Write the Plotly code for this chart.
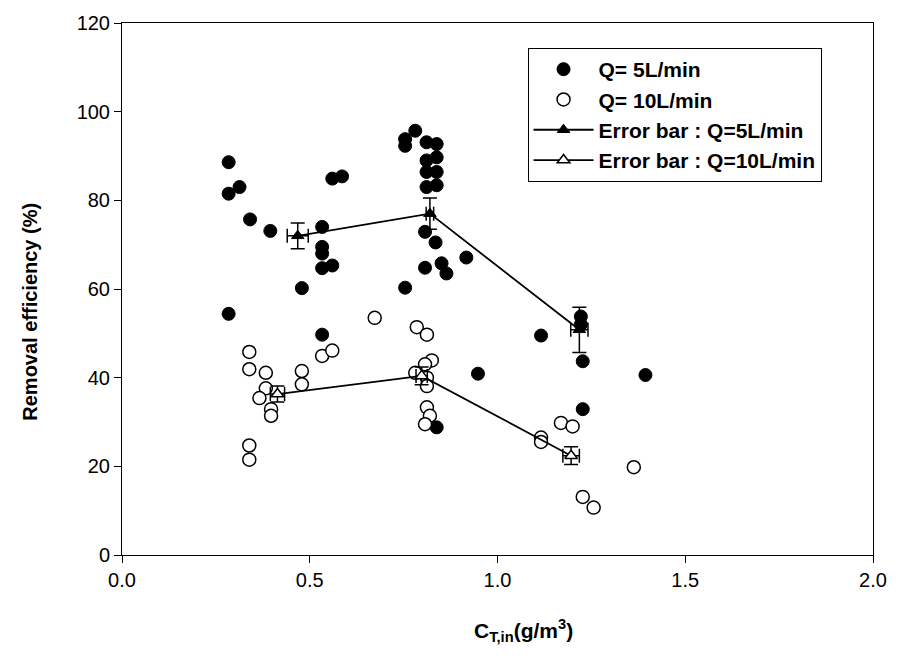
import plotly.graph_objects as go

# Q = 5 L/min (filled circles)
x5 = [0.284, 0.313, 0.284, 0.341, 0.395, 0.560, 0.586, 0.533, 0.533, 0.533, 0.533, 0.560, 0.479, 0.284, 0.533,
      0.781, 0.754, 0.754, 0.811, 0.838, 0.811, 0.838, 0.811, 0.838, 0.811, 0.838, 0.807, 0.835, 0.807, 0.851,
      0.864, 0.754, 0.917, 0.948, 1.116, 0.838, 1.222, 1.222, 1.227, 1.394, 1.227]
y5 = [88.6, 83.0, 81.5, 75.7, 73.1, 84.9, 85.4, 74.0, 69.5, 68.0, 64.7, 65.3, 60.2, 54.4, 49.7,
      95.7, 93.8, 92.3, 93.1, 92.7, 89.0, 89.7, 86.4, 86.4, 83.0, 83.4, 72.9, 70.5, 64.8, 65.8,
      63.5, 60.3, 67.1, 40.9, 49.5, 28.8, 53.8, 52.0, 43.7, 40.6, 32.9]

# Q = 10 L/min (open circles)
x10 = [0.339, 0.339, 0.383, 0.383, 0.366, 0.397, 0.397, 0.533, 0.560, 0.479, 0.479, 0.339, 0.339,
       0.673, 0.785, 0.812, 0.825, 0.807, 0.781, 0.812, 0.812, 0.812, 0.820, 0.807,
       1.169, 1.200, 1.116, 1.116, 1.363, 1.227, 1.256]
y10 = [45.8, 41.9, 41.1, 37.6, 35.4, 32.9, 31.4, 44.9, 46.1, 41.5, 38.5, 24.7, 21.5,
       53.5, 51.4, 49.7, 43.9, 43.0, 41.1, 40.0, 38.1, 33.3, 31.4, 29.5,
       29.8, 29.0, 26.5, 25.5, 19.8, 13.1, 10.7]

# Error bar series (mean values)
xe5 = [0.468, 0.820, 1.218]
ye5 = [72.0, 77.0, 50.8]
ey5 = [2.9, 3.5, 5.1]
ex5 = [0.028, 0.010, 0.023]

xe10 = [0.414, 0.798, 1.196]
ye10 = [36.3, 40.4, 22.4]
ey10 = [1.8, 2.0, 2.0]
ex10 = [0.019, 0.015, 0.022]

FONT = "Liberation Sans, Arial, sans-serif"

fig = go.Figure()
fig.add_trace(go.Scatter(
    x=x5, y=y5, mode="markers", name="<b>Q= 5L/min</b>",
    marker=dict(symbol="circle", size=13, color="black", line=dict(color="black", width=1))))
fig.add_trace(go.Scatter(
    x=x10, y=y10, mode="markers", name="<b>Q= 10L/min</b>",
    marker=dict(symbol="circle", size=13, color="white", line=dict(color="black", width=1.5))))
fig.add_trace(go.Scatter(
    x=xe5, y=ye5, mode="lines+markers", name="<b>Error bar : Q=5L/min</b>",
    line=dict(color="black", width=1.8),
    marker=dict(symbol="triangle-up", size=11, color="black", line=dict(color="black", width=1)),
    error_y=dict(type="data", array=ey5, visible=True, color="black", thickness=1.5, width=7),
    error_x=dict(type="data", array=ex5, visible=True, color="black", thickness=1.5, width=7)))
fig.add_trace(go.Scatter(
    x=xe10, y=ye10, mode="lines+markers", name="<b>Error bar : Q=10L/min</b>",
    line=dict(color="black", width=1.8),
    marker=dict(symbol="triangle-up", size=11, color="white", line=dict(color="black", width=1.5)),
    error_y=dict(type="data", array=ey10, visible=True, color="black", thickness=1.5, width=7),
    error_x=dict(type="data", array=ex10, visible=True, color="black", thickness=1.5, width=7)))

fig.update_layout(
    width=899, height=660,
    margin=dict(l=122, r=22, t=20, b=105),
    plot_bgcolor="white", paper_bgcolor="white",
    font=dict(family=FONT, size=20, color="black"),
    showlegend=True,
    legend=dict(x=0.54, y=0.953, xanchor="left", yanchor="top",
                bordercolor="black", borderwidth=1, bgcolor="white",
                font=dict(family=FONT, size=21, color="black"),
                itemwidth=60, tracegroupgap=0),
    annotations=[
        dict(text="<b>C<sub>T,in</sub>(g/m<sup>3</sup>)</b>", xref="paper", yref="paper",
             x=0.535, y=-0.142, xanchor="center", yanchor="middle", showarrow=False,
             font=dict(family=FONT, size=21, color="black")),
        dict(text="<b>Removal efficiency (%)</b>", xref="paper", yref="paper",
             x=-0.122, y=0.458, xanchor="center", yanchor="middle", showarrow=False,
             textangle=-90, font=dict(family=FONT, size=20, color="black")),
    ],
)
fig.update_xaxes(range=[0, 2.0], tickvals=[0, 0.5, 1.0, 1.5, 2.0],
                 ticktext=["0.0", "0.5", "1.0", "1.5", "2.0"],
                 ticks="outside", ticklen=7, tickwidth=1, tickcolor="black",
                 showline=True, linecolor="black", linewidth=1, mirror=True,
                 showgrid=False, zeroline=False,
                 tickfont=dict(family=FONT, size=20))
fig.update_yaxes(range=[0, 120], tickvals=[0, 20, 40, 60, 80, 100, 120],
                 ticks="outside", ticklen=7, tickwidth=1, tickcolor="black",
                 showline=True, linecolor="black", linewidth=1, mirror=True,
                 showgrid=False, zeroline=False,
                 tickfont=dict(family=FONT, size=20))

fig.write_html("out.html")
